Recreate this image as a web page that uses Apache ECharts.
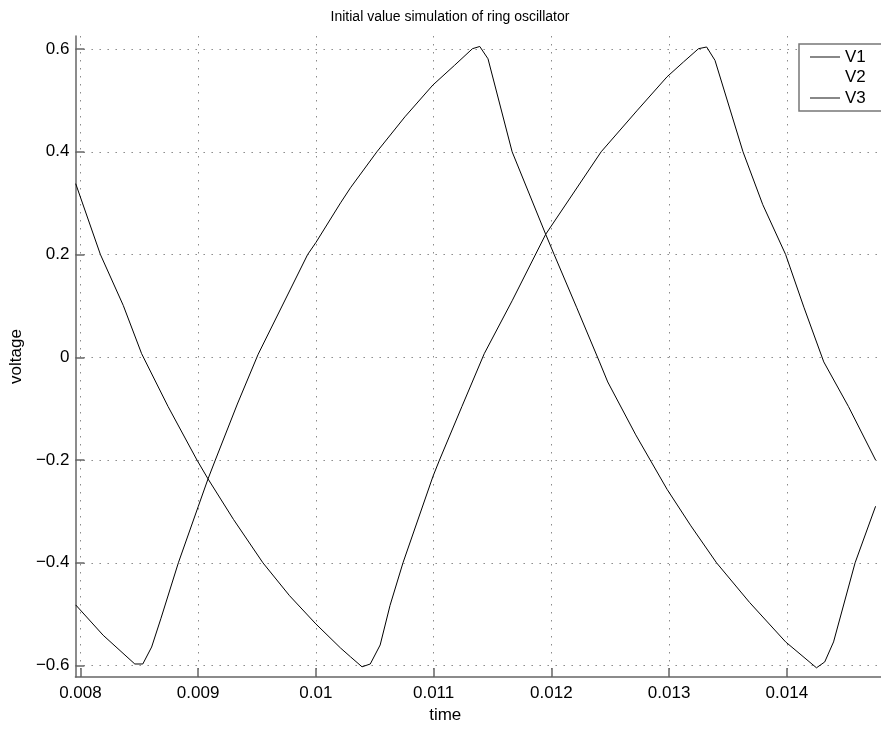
<!DOCTYPE html>
<html>
<head>
<meta charset="utf-8">
<title>Initial value simulation of ring oscillator</title>
<script src="https://cdn.jsdelivr.net/npm/echarts@6/dist/echarts.min.js"></script>
<style>
  html, body { margin: 0; padding: 0; background: #fff; }
  #main { width: 881px; height: 729px; }
</style>
</head>
<body>
<div id="main"></div>
<script>
const chartDom = document.getElementById('main');
const myChart = echarts.init(chartDom);

// values
const seriesNames = ['V1', 'V2', 'V3'];

const timeV1 = [0.00796, 0.00817, 0.008364, 0.00852, 0.008745, 0.00899, 0.009084, 0.0093, 0.00955,
	0.009776, 0.0100, 0.01021, 0.010294, 0.010392, 0.010462, 0.010546, 0.01063, 0.01074, 0.010995,
	0.01105, 0.01124, 0.01143, 0.011667, 0.011952, 0.012423, 0.012731, 0.012983, 0.013123,
	0.01325, 0.013319, 0.01339, 0.013628, 0.013796, 0.01399, 0.014145, 0.014314, 0.014524, 0.014754];
const valV1 = [0.338, 0.200, 0.101, 0.007, -0.096, -0.200, -0.2367, -0.3155, -0.400,
	-0.464, -0.519, -0.566, -0.583, -0.6025, -0.597, -0.560, -0.483, -0.400, -0.2315,
	-0.200, -0.096, 0.007, 0.110, 0.2394, 0.400, 0.481, 0.546, 0.575,
	0.6007, 0.604, 0.578, 0.400, 0.297, 0.200, 0.0975, -0.009, -0.096, -0.200];

// V2 is not visible in the picture
const timeV2 = [];
const valV2 = [];

const timeV3 = [0.00796, 0.008193, 0.008462, 0.00853, 0.008605, 0.008683, 0.008832, 0.00900, 0.009084,
	0.009146, 0.009333, 0.00951, 0.00993, 0.0100, 0.01021, 0.010294, 0.010518, 0.010756, 0.010994,
	0.011176, 0.01133, 0.011392, 0.011462, 0.011667, 0.011952, 0.012024, 0.012214, 0.012409, 0.012479,
	0.012717, 0.012983, 0.013185, 0.013403, 0.013683, 0.01399, 0.014252, 0.014322, 0.014397, 0.01458, 0.014754];
const valV3 = [-0.482, -0.541, -0.597, -0.597, -0.564, -0.509, -0.400, -0.291, -0.2367,
	-0.200, -0.091, 0.006, 0.200, 0.2233, 0.3007, 0.330, 0.400, 0.468, 0.530,
	0.568, 0.6007, 0.605, 0.581, 0.400, 0.2394, 0.200, 0.0975, -0.009, -0.048,
	-0.151, -0.257, -0.328, -0.400, -0.477, -0.554, -0.6044, -0.593, -0.554, -0.400, -0.290];

const xTicks = [0.008, 0.009, 0.010, 0.011, 0.012, 0.013, 0.014];
const yTicks = [-0.6, -0.4, -0.2, 0, 0.2, 0.4, 0.6];

const font = 'Liberation Sans, Arial, Helvetica, sans-serif';

let pairs = function(ts, vs) {
	let out = [];
	for (let i = 0; i < ts.length; i++) {
		out.push([ts[i], vs[i]]);
	}
	return out;
};

const axisColor = '#666';
const gridLine = {
	show: true,
	lineStyle: {
		color: '#8a8a8a',
		width: 1,
		type: [1.5, 6.5]
	}
};

let option = {
	animation: false,
	backgroundColor: '#fff',
	textStyle: { fontFamily: font },
	title: {
		text: 'Initial value simulation of ring oscillator',
		left: 445,
		textAlign: 'center',
		top: 5,
		textStyle: {
			fontFamily: font,
			fontSize: 14,
			fontWeight: 'normal',
			color: '#000'
		}
	},
	legend: {
		orient: 'vertical',
		left: 799,
		top: 44,
		padding: [4.5, 70, 4.5, 11],
		icon: 'rect',
		itemWidth: 30,
		itemHeight: 2,
		itemGap: 3.5,
		borderColor: '#777',
		borderWidth: 1.5,
		backgroundColor: '#fff',
		textStyle: {
			fontFamily: font,
			fontSize: 17,
			color: '#000'
		},
		data: [
			{ name: 'V1', itemStyle: { color: '#888' } },
			{ name: 'V2', itemStyle: { color: '#fff' } },
			{ name: 'V3', itemStyle: { color: '#888' } }
		]
	},
	grid: {
		left: 72,
		top: 36,
		bottom: 49,
		width: 814,
		containLabel: false
	},
	xAxis: {
		type: 'value',
		min: 0.007958,
		max: 0.0148,
		name: 'time',
		nameLocation: 'middle',
		nameGap: 29,
		nameTextStyle: {
			fontFamily: font,
			fontSize: 17,
			color: '#000',
			padding: [0, 66, 0, 0]
		},
		axisLine: { show: true, onZero: false, lineStyle: { color: axisColor, width: 1.5 } },
		axisTick: {
			show: true,
			inside: true,
			length: 9,
			customValues: xTicks,
			lineStyle: { color: axisColor, width: 1.5 }
		},
		axisLabel: {
			customValues: xTicks,
			margin: 8,
			fontFamily: font,
			fontSize: 17,
			color: '#000',
			formatter: (v) => String(+v.toFixed(4))
		},
		splitLine: gridLine
	},
	yAxis: {
		type: 'value',
		min: -0.6225,
		max: 0.6254,
		name: 'voltage',
		nameLocation: 'middle',
		nameGap: 46,
		nameTextStyle: {
			fontFamily: font,
			fontSize: 17,
			color: '#000'
		},
		axisLine: { show: true, onZero: false, lineStyle: { color: axisColor, width: 1.5 } },
		axisTick: {
			show: true,
			inside: true,
			length: 9,
			customValues: yTicks,
			lineStyle: { color: axisColor, width: 1.5 }
		},
		axisLabel: {
			customValues: yTicks,
			margin: 6,
			fontFamily: font,
			fontSize: 17,
			color: '#000',
			formatter: (v) => String(Math.round(v * 10) / 10).replace('-', '\u2212')
		},
		splitLine: gridLine
	},
	series: [
		{
			name: 'V1',
			type: 'line',
			symbol: 'none',
			lineStyle: { color: '#000', width: 1 },
			itemStyle: { color: '#000' },
			data: pairs(timeV1, valV1)
		},
		{
			name: 'V2',
			type: 'line',
			symbol: 'none',
			lineStyle: { color: '#fff', width: 1 },
			itemStyle: { color: '#fff' },
			data: pairs(timeV2, valV2)
		},
		{
			name: 'V3',
			type: 'line',
			symbol: 'none',
			lineStyle: { color: '#000', width: 1 },
			itemStyle: { color: '#000' },
			data: pairs(timeV3, valV3)
		}
	]
};

option && myChart.setOption(option);
</script>
</body>
</html>
